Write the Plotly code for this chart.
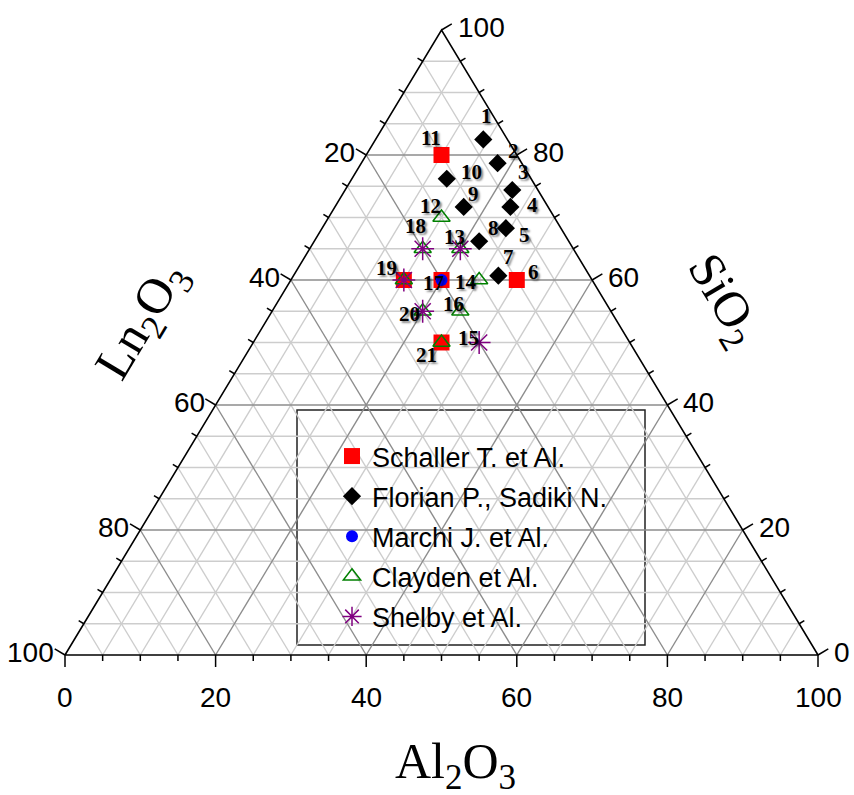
import plotly.graph_objects as go

# ---------------- data (mol %) : SiO2 (top), Al2O3 (bottom-right), Ln2O3 (bottom-left)
schaller_sio2 = [80, 60, 60, 60, 50]
schaller_al2o3 = [10, 30, 20, 15, 25]
schaller_ln2o3 = [10, 10, 20, 25, 25]

florian_sio2 = [82.5, 78.7, 74.4, 71.7, 68.3, 60.7, 66.2, 71.7, 76.2]
florian_al2o3 = [14.3, 18.1, 22.2, 23.3, 24.4, 27.2, 21.9, 17.1, 12.6]
florian_ln2o3 = [3.2, 3.2, 3.4, 5.0, 7.3, 12.1, 11.9, 11.2, 11.2]

marchi_sio2 = [60]
marchi_al2o3 = [20]
marchi_ln2o3 = [20]

clayden_sio2 = [70, 65, 60, 55, 65, 60, 55, 50]
clayden_al2o3 = [15, 20, 25, 25, 15, 15, 20, 25]
clayden_ln2o3 = [15, 15, 15, 20, 20, 25, 25, 25]

shelby_sio2 = [65, 50, 65, 60, 55]
shelby_al2o3 = [20, 30, 15, 15, 20]
shelby_ln2o3 = [15, 20, 20, 25, 25]

# sample numbers and the composition they are attached to
label_text = ["1", "2", "3", "4", "5", "6", "7", "8", "9", "10", "11",
              "12", "13", "14", "15", "16", "17", "18", "19", "20", "21"]
label_sio2 = [82.5, 78.7, 74.4, 71.7, 68.3, 60, 60.7, 66.2, 71.7, 76.2, 80,
              70, 65, 60, 50, 55, 60, 65, 60, 55, 50]
label_al2o3 = [14.3, 18.1, 22.2, 23.3, 24.4, 30, 27.2, 21.9, 17.1, 12.6, 10,
               15, 20, 25, 30, 25, 20, 15, 15, 20, 25]

series_names = ["Schaller T. et Al.", "Florian P., Sadiki N.", "Marchi J. et Al.",
                "Clayden et Al.", "Shelby et Al."]

tick_values = list(range(0, 101, 20))
tick_text = ["0", "20", "40", "60", "80", "100"]
minor_step = 5

# ---------------- styles (pixel offsets for the number labels)
label_dx = [3, 16, 11, 22, 19, 17, 10, 14, 10, 25, -11, -11, -6, -13, -11, -7, -8, -7, -17, -13, -15]
label_dy = [-23, -12, -18, -2, 7, -8, -19, -13, -13, -7, -17, -12, -12, 2, -5, -7, 3, -23, -12, 3, 12]

PX_X = 7.53   # pixels per unit along x
PX_Y = 6.25   # pixels per unit along y


def tx(sio2, al2o3):
    return [a + s / 2.0 for s, a in zip(sio2, al2o3)]


def ty(sio2):
    return list(sio2)


def pt(sio2, al2o3):
    return al2o3 + sio2 / 2.0, sio2


fig = go.Figure()

# ---------------- grid
def grid_trace(major):
    xs, ys = [], []
    for v in range(minor_step, 100, minor_step):
        if (v % 20 == 0) != major:
            continue
        for (s1, a1), (s2, a2) in [((v, 0), (v, 100 - v)),          # SiO2 = v
                                   ((0, v), (100 - v, v)),          # Al2O3 = v
                                   ((0, 100 - v), (100 - v, 0))]:   # Ln2O3 = v
            x1, y1 = pt(s1, a1)
            x2, y2 = pt(s2, a2)
            xs += [x1, x2, None]
            ys += [y1, y2, None]
    return go.Scatter(x=xs, y=ys, mode="lines", hoverinfo="skip", showlegend=False,
                      line=dict(color="#8c8c8c" if major else "#cdcdcd", width=1.4))

fig.add_trace(grid_trace(False))
fig.add_trace(grid_trace(True))

# ---------------- ticks
nl = (-0.857, -0.516)  # left edge outward normal (screen)
nr = (0.857, -0.516)
tx_, ty_ = [], []
for v in range(0, 101, minor_step):
    L = 12 if v % 20 == 0 else 6
    x0, y0 = pt(0, v)                      # bottom (Al2O3)
    tx_ += [x0, x0, None]
    ty_ += [y0, y0 - L / PX_Y, None]
    x0, y0 = pt(v, 100 - v)                # right (SiO2)
    tx_ += [x0, x0 + nr[0] * L / PX_X, None]
    ty_ += [y0, y0 - nr[1] * L / PX_Y, None]
    if v > 0:                              # left (Ln2O3)
        x0, y0 = pt(100 - v, 0)
        tx_ += [x0, x0 + nl[0] * L / PX_X, None]
        ty_ += [y0, y0 - nl[1] * L / PX_Y, None]
fig.add_trace(go.Scatter(x=tx_, y=ty_, mode="lines", hoverinfo="skip", showlegend=False,
                         line=dict(color="black", width=1.5)))

# ---------------- outline
ox, oy = [], []
for s, a in [(0, 0), (0, 100), (100, 0), (0, 0)]:
    x, y = pt(s, a)
    ox.append(x)
    oy.append(y)
fig.add_trace(go.Scatter(x=ox, y=oy, mode="lines", hoverinfo="skip", showlegend=False,
                         line=dict(color="black", width=1.6)))

# ---------------- data series
def ht(s, a, l):
    return [f"SiO2 {si}<br>Al2O3 {al}<br>Ln2O3 {ln}" for si, al, ln in zip(s, a, l)]

fig.add_trace(go.Scatter(x=tx(schaller_sio2, schaller_al2o3), y=ty(schaller_sio2), mode="markers",
                         name=series_names[0], legendgroup="g1",
                         text=ht(schaller_sio2, schaller_al2o3, schaller_ln2o3),
                         hoverinfo="text", marker=dict(symbol="square", size=16, color="#ff0000")))
fig.add_trace(go.Scatter(x=tx(florian_sio2, florian_al2o3), y=ty(florian_sio2), mode="markers",
                         name=series_names[1], legendgroup="g2",
                         text=ht(florian_sio2, florian_al2o3, florian_ln2o3),
                         hoverinfo="text", marker=dict(symbol="diamond", size=14, color="black")))
fig.add_trace(go.Scatter(x=tx(marchi_sio2, marchi_al2o3), y=ty(marchi_sio2), mode="markers",
                         name=series_names[2], legendgroup="g3",
                         text=ht(marchi_sio2, marchi_al2o3, marchi_ln2o3),
                         hoverinfo="text", marker=dict(symbol="circle", size=12, color="#0000ff")))
fig.add_trace(go.Scatter(x=tx(clayden_sio2, clayden_al2o3), y=ty(clayden_sio2), mode="markers",
                         name=series_names[3], legendgroup="g4",
                         text=ht(clayden_sio2, clayden_al2o3, clayden_ln2o3),
                         hoverinfo="text",
                         marker=dict(symbol="triangle-up-open", size=15, color="#008000",
                                     line=dict(color="#008000", width=1.5))))
fig.add_trace(go.Scatter(x=tx(shelby_sio2, shelby_al2o3), y=ty(shelby_sio2), mode="markers",
                         name=series_names[4], legendgroup="g5",
                         text=ht(shelby_sio2, shelby_al2o3, shelby_ln2o3),
                         hoverinfo="text",
                         marker=dict(symbol="asterisk-open", size=19, color="#800080",
                                     line=dict(color="#800080", width=1.5))))

annotations = []

# ---------------- number labels with drop shadow
for t, s, a, dx, dy in zip(label_text, label_sio2, label_al2o3, label_dx, label_dy):
    x, y = pt(s, a)
    annotations.append(dict(x=x, y=y, xref="x", yref="y", text=f"<b>{t}</b>", showarrow=False,
                            xanchor="center", yanchor="middle", xshift=dx, yshift=-dy,
                            font=dict(family="Liberation Serif", size=21, color="black",
                                      shadow="2px 2px 2px rgba(0,0,0,0.45)")))

# ---------------- tick labels
tick_font = dict(family="Liberation Sans", size=28, color="black")
for v, t in zip(tick_values, tick_text):
    x, y = pt(0, v)                        # bottom: Al2O3
    annotations.append(dict(x=x, y=y, xref="x", yref="y", text=t, showarrow=False,
                            xanchor="center", yanchor="middle", yshift=-42, font=tick_font))
    x, y = pt(v, 100 - v)                  # right: SiO2
    annotations.append(dict(x=x, y=y, xref="x", yref="y", text=t, showarrow=False,
                            xanchor="left", yanchor="middle", xshift=14, yshift=3, font=tick_font))
    if v > 0:                              # left: Ln2O3
        x, y = pt(100 - v, 0)
        annotations.append(dict(x=x, y=y, xref="x", yref="y", text=t, showarrow=False,
                                xanchor="right", yanchor="middle", xshift=-9, yshift=3, font=tick_font))

# ---------------- axis titles
title_font = dict(family="Liberation Serif", size=50, color="black")
annotations.append(dict(x=455 / 854, y=1 - 765 / 795, xref="paper", yref="paper",
                        text="Al<sub>2</sub>O<sub>3</sub>", showarrow=False,
                        xanchor="center", yanchor="middle", font=title_font))
annotations.append(dict(x=143 / 854, y=1 - 322 / 795, xref="paper", yref="paper",
                        text="Ln<sub>2</sub>O<sub>3</sub>", showarrow=False, textangle=-59,
                        xanchor="center", yanchor="middle", font=title_font))
annotations.append(dict(x=722 / 854, y=1 - 300 / 795, xref="paper", yref="paper",
                        text="SiO<sub>2</sub>", showarrow=False, textangle=59,
                        xanchor="center", yanchor="middle", font=title_font))

x0 = -65 / PX_X
x1 = x0 + 854 / PX_X
y1 = 100 + 30 / PX_Y
y0 = y1 - 795 / PX_Y

fig.update_layout(
    width=854, height=795, autosize=False,
    margin=dict(l=0, r=0, t=0, b=0, pad=0),
    paper_bgcolor="white", plot_bgcolor="white",
    xaxis=dict(range=[x0, x1], visible=False, fixedrange=True),
    yaxis=dict(range=[y0, y1], visible=False, fixedrange=True),
    annotations=annotations,
    shapes=[dict(type="rect", xref="paper", yref="paper",
                 x0=297 / 854, x1=645 / 854, y0=1 - 645 / 795, y1=1 - 410 / 795,
                 fillcolor="white", line=dict(color="#222222", width=1.5), layer="below")],
    legend=dict(x=332 / 854, y=1 - 432 / 795, xanchor="left", yanchor="top",
                bgcolor="rgba(0,0,0,0)", borderwidth=0,
                font=dict(family="Liberation Sans", size=27, color="black"),
                tracegroupgap=2),
    showlegend=True,
)

fig.write_html("out.html", config={"displayModeBar": False},
               post_script="document.body.style.margin='0px';document.body.style.overflow='hidden';")
